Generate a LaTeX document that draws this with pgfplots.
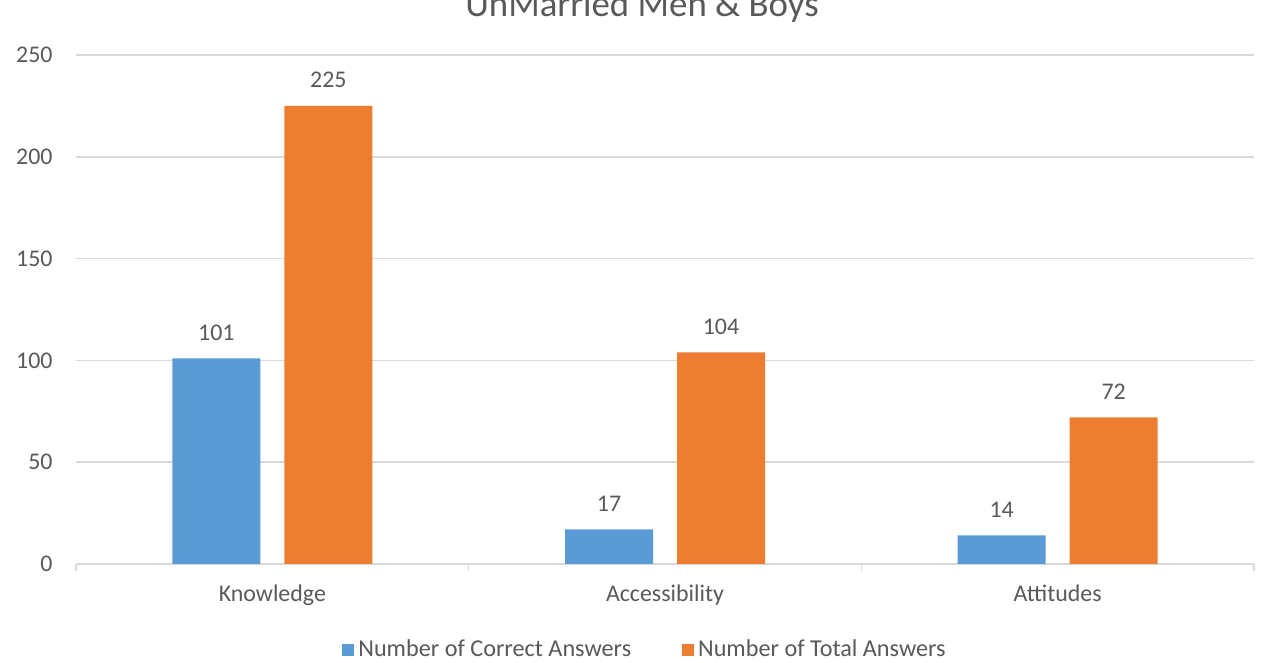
\documentclass[border=0pt]{standalone}
\usepackage{pgfplots}
\pgfplotsset{compat=1.18}
\usepackage{fontspec}
\setmainfont{Carlito}
\definecolor{cblue}{HTML}{5B9BD5}
\definecolor{corange}{HTML}{ED7D31}
\definecolor{txt}{HTML}{595959}
\definecolor{grd}{HTML}{D9D9D9}
\begin{document}
\begin{tikzpicture}
\begin{axis}[
 at={(38bp,49.5bp)}, anchor=south west,
 scale only axis, width=589bp, height=254.5bp,
 ybar=12bp, bar width=44bp,
 xmin=-0.5, xmax=2.5, ymin=0, ymax=250,
 xtick={0,1,2}, xticklabels={Knowledge,Accessibility,Attitudes},
 ytick={0,50,...,250},
 axis x line*=bottom, axis y line*=left,
 tick align=outside, major tick length=0pt,
 extra x ticks={-0.5,0.5,1.5,2.5}, extra x tick labels={},
 extra x tick style={major tick length=3.5bp, tick style={grd, line width=0.75bp}},
 ymajorgrids, grid style={grd, line width=0.75bp},
 x axis line style={grd, line width=0.75bp, -},
 y axis line style={draw=none},
 ticklabel style={font=\fontsize{12}{14}\selectfont, text=txt},
 /pgf/number format/assume math mode=true,
 yticklabel style={anchor=east, inner sep=0pt, xshift=-11.5bp},
 xticklabel style={anchor=base, inner sep=0pt, yshift=-18.5bp},
 nodes near coords,
 every node near coord/.append style={font=\fontsize{12}{14}\selectfont, text=txt, anchor=base, inner sep=0pt, yshift=9bp},
 legend columns=2,
 legend style={draw=none, at={(0.4839,-0.168)}, anchor=center, font=\fontsize{12.15}{14}\selectfont, text=txt, /tikz/every even column/.append style={column sep=23.5bp}},
 legend image code/.code={\fill[#1] (0bp,-3bp) rectangle (6bp,3bp);},
]
\addplot[fill=cblue, draw=none] coordinates {(0,101) (1,17) (2,14)};
\addplot[fill=corange, draw=none] coordinates {(0,225) (1,104) (2,72)};
\legend{Number of Correct Answers, Number of Total Answers}
\end{axis}
\node[font=\fontsize{18.5}{22}\selectfont, text=txt, anchor=base] at (321bp,323bp) {UnMarried Men \& Boys};
\pgfresetboundingbox
\useasboundingbox (0,0) rectangle (637.5bp,331.5bp);
\end{tikzpicture}
\end{document}
